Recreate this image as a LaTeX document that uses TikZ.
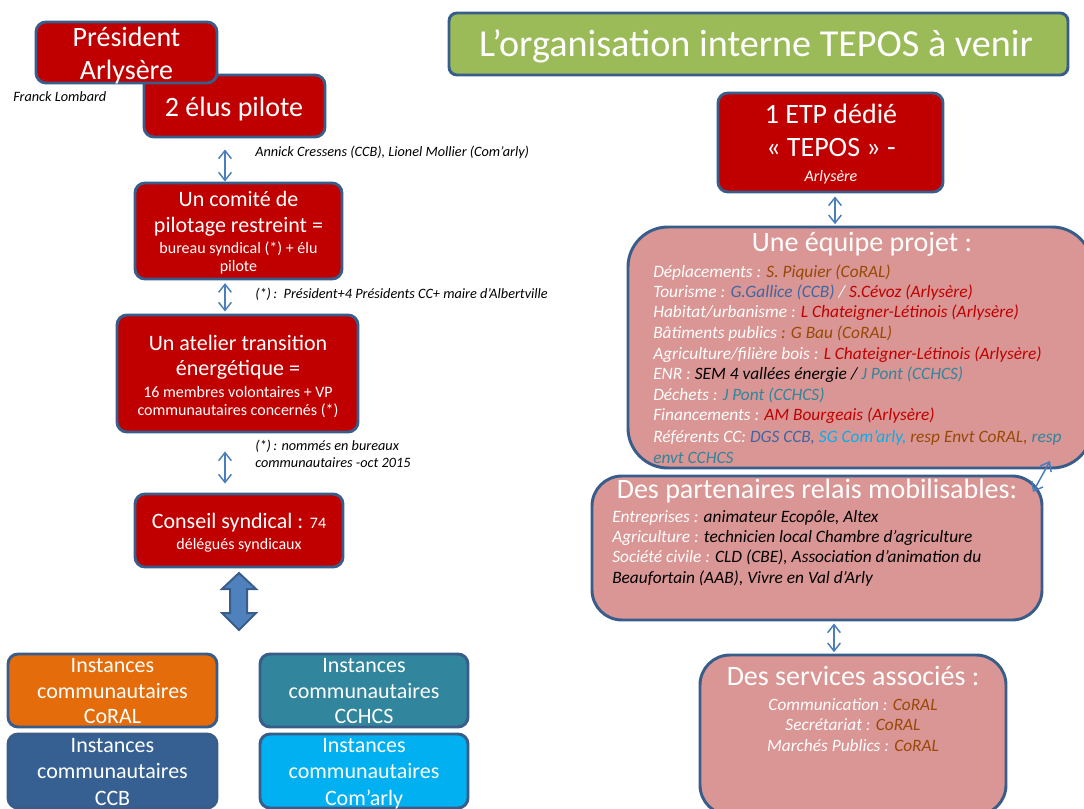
\documentclass[tikz,border=0pt]{standalone}
\usepackage{fontspec}
\setmainfont{Carlito}
\usetikzlibrary{arrows.meta,calc}
\definecolor{bord}{HTML}{385D8A}
\definecolor{dred}{HTML}{C00000}
\definecolor{tgreen}{HTML}{9BBB59}
\definecolor{pinkbox}{HTML}{D99694}
\definecolor{orng}{HTML}{E46C0A}
\definecolor{tealbox}{HTML}{31859C}
\definecolor{ccbbox}{HTML}{376092}
\definecolor{cyanbox}{HTML}{00B0F0}
\definecolor{linkblue}{HTML}{4A7EBB}
\definecolor{blockfill}{HTML}{4F81BD}
\definecolor{coraltxt}{HTML}{984807}
\definecolor{ccbtxt}{HTML}{3F66A3}
\definecolor{arltxt}{HTML}{C00000}
\definecolor{cchcstxt}{HTML}{31859C}
\definecolor{comtxt}{HTML}{00B0F0}
\newcommand\fBig{\fontsize{21pt}{25pt}\selectfont}
\newcommand\fMid{\fontsize{16.5pt}{20pt}\selectfont}
\newcommand\fSm{\fontsize{12pt}{14pt}\selectfont}
\newcommand\fList{\fontsize{13pt}{15.5pt}\selectfont\itshape}
\newcommand\fNote{\fontsize{10.7pt}{12.5pt}\selectfont\itshape}
\newcommand\fTitle{\fontsize{28.6pt}{34pt}\selectfont}
\begin{document}
\begin{tikzpicture}[x=0.75pt,y=-0.75pt,
  box/.style={draw=bord, line width=2.2pt, rounded corners=7.5pt, inner sep=0pt, shape=rectangle},
  sz/.style 2 args={minimum width=#1*0.75pt, minimum height=#2*0.75pt},
  tc/.style={inner sep=0pt, anchor=base, text=white},
  tl/.style={inner sep=0pt, anchor=base west, text=white},
  note/.style={inner sep=0pt, anchor=base west, text=black, font=\fNote},
  link/.style={draw=linkblue, line width=1.1pt, {Straight Barb[length=6pt,width=9.5pt]}-{Straight Barb[length=6pt,width=9.5pt]}},
  blockarrow/.style={fill=blockfill, draw=bord, line width=1.5pt, line join=miter}
]
\useasboundingbox (0,0) rectangle (1084,809);

% ---------- title ----------
\node[box, fill=tgreen, sz={619}{62}, rounded corners=6pt] (title) at (758.5,44) {};
\node[tc, font=\fTitle] (titleT) at (756,57) {L’organisation interne TEPOS à venir};

% ---------- left column ----------
\node[box, fill=dred, sz={181}{62}] (elus) at (234.5,106) {};
\node[tc, font=\fBig] (elusT) at (234,117) {2 élus pilote};
\node[box, fill=dred, sz={181}{61}] (pres) at (126.5,52.5) {};
\node[tc, font=\fBig] (presT1) at (126.5,47) {Président};
\node[tc, font=\fBig] (presT2) at (126.5,80) {Arlysère};
\node[note] (franck) at (13,102) {Franck Lombard};

\node[box, fill=dred, sz={207}{96}] (comite) at (238.5,231) {};
\node[tc, font=\fMid] (comT1) at (238.5,207) {Un comité de};
\node[tc, font=\fMid] (comT2) at (238.5,233) {pilotage restreint =};
\node[tc, font=\fSm] (comT3) at (238.5,253) {bureau syndical (*) + élu};
\node[tc, font=\fSm] (comT4) at (238.5,272) {pilote};

\node[note] (annick) at (255,157) {Annick Cressens (CCB), Lionel Mollier (Com’arly)};
\node[note] (astA) at (255,298) {(*)\,:~~Président+4 Présidents CC+ maire d’Albertville};

\node[box, fill=dred, sz={241}{117}] (atelier) at (237.5,373.5) {};
\node[tc, font=\fMid] (atT1) at (238,350) {Un atelier transition};
\node[tc, font=\fMid] (atT2) at (238,375) {énergétique =};
\node[tc, font=\fSm] (atT3) at (238,397) {16 membres volontaires + VP};
\node[tc, font=\fSm] (atT4) at (238,415) {communautaires concernés (*)};

\node[note] (astB1) at (255,450) {(*)\,: nommés en bureaux};
\node[note] (astB2) at (255,467) {communautaires -oct 2015};

\node[box, fill=dred, sz={208}{73}] (conseil) at (239,530.5) {};
\node[tc, font=\fMid] (coT1) at (239,528) {Conseil syndical : {\fSm 74}};
\node[tc, font=\fSm] (coT2) at (239,549) {délégués syndicaux};

\coordinate (axL) at (225,0);
\draw[link, shorten <=8.25pt] (elus.south -| axL) -- (comite.north -| axL);
\draw[link, shorten <=2pt, shorten >=1.5pt] (comite.south -| axL) -- (atelier.north -| axL);
\draw[link, shorten <=13.5pt, shorten >=6.75pt] (atelier.south -| axL) -- (conseil.north -| axL);

% block arrow
\draw[blockarrow] (239,573) -- (256,589) -- (247,589) -- (247,613) -- (256,613) -- (239,630)
  -- (222,613) -- (230,613) -- (230,589) -- (222,589) -- cycle;

% ---------- instances ----------
\node[box, fill=orng, sz={209}{73}] (coral) at (112.5,690.5) {};
\node[tc, font=\fMid] (coralT1) at (112.5,672) {Instances};
\node[tc, font=\fMid] (coralT2) at (112.5,698) {communautaires};
\node[tc, font=\fMid] (coralT3) at (112.5,723) {CoRAL};

\node[box, fill=tealbox, sz={208}{73}] (cchcs) at (364,690.5) {};
\node[tc, font=\fMid] (cchcsT1) at (364,672) {Instances};
\node[tc, font=\fMid] (cchcsT2) at (364,698) {communautaires};
\node[tc, font=\fMid] (cchcsT3) at (364,723) {CCHCS};

\node[box, fill=ccbbox, sz={209}{74}] (ccb) at (112.5,771) {};
\node[tc, font=\fMid] (ccbT1) at (112.5,752) {Instances};
\node[tc, font=\fMid] (ccbT2) at (112.5,778) {communautaires};
\node[tc, font=\fMid] (ccbT3) at (112.5,805) {CCB};

\node[box, fill=cyanbox, sz={208}{74}] (comarly) at (364,771) {};
\node[tc, font=\fMid] (comaT1) at (364,752) {Instances};
\node[tc, font=\fMid] (comaT2) at (364,778) {communautaires};
\node[tc, font=\fMid] (comaT3) at (364,805) {Com’arly};

% ---------- right column ----------
\node[box, fill=dred, sz={225}{99}] (etp) at (830.5,142.5) {};
\node[tc, font=\fBig] (etpT1) at (831,124) {1 ETP dédié};
\node[tc, font=\fBig] (etpT2) at (831,157) {« TEPOS » -};
\node[tc, font=\fSm\itshape] (etpT3) at (831,182) {Arlysère};

\node[box, fill=pinkbox, sz={464}{241}, rounded corners=30pt] (equipe) at (860,347.5) {};
\node[tc, font=\fBig] (eqT) at (862,252) {Une équipe projet :};
\node[tl, font=\fList] (eq1) at (653,277) {Déplacements : \textcolor{coraltxt}{S. Piquier (CoRAL)}};
\node[tl, font=\fList] (eq2) at (653,297) {Tourisme : \textcolor{ccbtxt}{G.Gallice (CCB)} / \textcolor{arltxt}{S.Cévoz (Arlysère)}};
\node[tl, font=\fList] (eq3) at (653,317) {Habitat/urbanisme : \textcolor{arltxt}{L Chateigner-Létinois (Arlysère)}};
\node[tl, font=\fList] (eq4) at (653,338) {Bâtiments publics \textcolor{coraltxt}{: G Bau (CoRAL)}};
\node[tl, font=\fList] (eq5) at (653,359) {Agriculture/filière bois : \textcolor{arltxt}{L Chateigner-Létinois (Arlysère)}};
\node[tl, font=\fList] (eq6) at (653,379) {ENR : \textcolor{black}{SEM 4 vallées énergie /} \textcolor{cchcstxt}{J Pont (CCHCS)}};
\node[tl, font=\fList] (eq7) at (653,400) {Déchets : \textcolor{cchcstxt}{J Pont (CCHCS)}};
\node[tl, font=\fList] (eq8) at (653,420) {Financements : \textcolor{arltxt}{AM Bourgeais (Arlysère)}};
\node[tl, font=\fList] (eq9) at (653,442) {Référents CC: \textcolor{ccbtxt}{DGS CCB,} \textcolor{comtxt}{SG Com’arly,} \textcolor{coraltxt}{resp Envt CoRAL,} \textcolor{cchcstxt}{resp}};
\node[tl, font=\fList, text=cchcstxt] (eq10) at (653,463) {envt CCHCS};

\node[box, fill=pinkbox, sz={450}{144}, rounded corners=22.5pt] (partn) at (817,548) {};
\node[tc, font=\fBig] (paT) at (817,498) {Des partenaires relais mobilisables:};
\node[tl, font=\fList] (pa1) at (612,522) {Entreprises : \textcolor{black}{animateur Ecopôle, Altex}};
\node[tl, font=\fList] (pa2) at (612,542) {Agriculture : \textcolor{black}{technicien local Chambre d’agriculture}};
\node[tl, font=\fList] (pa3) at (612,562) {Société civile : \textcolor{black}{CLD (CBE), Association d’animation du}};
\node[tl, font=\fList, text=black] (pa4) at (612,583) {Beaufortain (AAB), Vivre en Val d’Arly};

\node[box, fill=pinkbox, sz={306}{160}, rounded corners=22.5pt] (serv) at (853,735) {};
\node[tc, font=\fBig] (seT) at (853,685) {Des services associés :};
\node[tc, font=\fList] (se1) at (853,710) {Communication : \textcolor{coraltxt}{CoRAL}};
\node[tc, font=\fList] (se2) at (853,730) {Secrétariat : \textcolor{coraltxt}{CoRAL}};
\node[tc, font=\fList] (se3) at (853,751) {Marchés Publics : \textcolor{coraltxt}{CoRAL}};

\coordinate (axR) at (835,0);
\coordinate (axR2) at (834,0);
\draw[link, shorten <=2.25pt, shorten >=1pt] (etp.south -| axR) -- (equipe.north -| axR);
\draw[link, shorten <=1.5pt, shorten >=1pt] (partn.south -| axR2) -- (serv.north -| axR2);
\coordinate (dA) at (1033,492);
\coordinate (dB) at (1050,461);
\draw[link] (dA) -- (dB);
\end{tikzpicture}
\end{document}
